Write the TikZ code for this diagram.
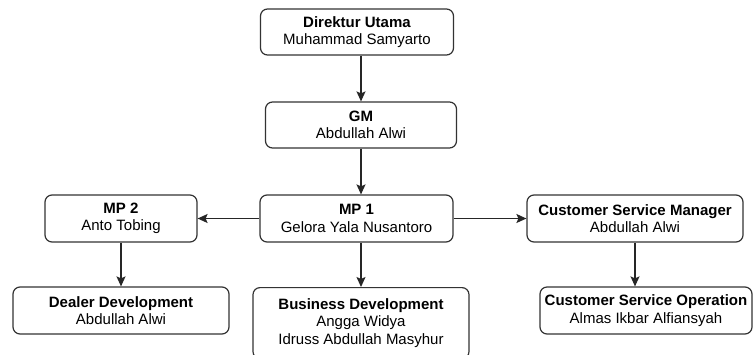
\documentclass[tikz,border=0pt]{standalone}
\usepackage{fontspec}
\setmainfont{Liberation Sans}
\usetikzlibrary{arrows.meta}
\begin{document}
\begin{tikzpicture}[x=1pt,y=1pt,
  box/.style={draw=black!80, line width=1.2pt, rounded corners=7pt, fill=white,
    align=center, inner sep=0pt, font=\fontsize{15}{17.5}\selectfont},
  arr/.style={draw=black!85, line width=1.3pt, -{Stealth[length=10pt,width=9pt,inset=2pt]}}]
\fill[white] (0,0) rectangle (754,-354);
\useasboundingbox (0,0) rectangle (754,-354);
\node[box, minimum width=193pt, minimum height=46pt] (dir) at (357,-32) {\textbf{Direktur Utama}\\Muhammad Samyarto};
\node[box, minimum width=191pt, minimum height=46pt] (gm) at (361,-125) {\textbf{GM}\\Abdullah Alwi};
\node[box, minimum width=193pt, minimum height=47pt] (mp1) at (356.5,-218.5) {\textbf{MP 1}\\Gelora Yala Nusantoro};
\node[box, minimum width=152pt, minimum height=47pt] (mp2) at (121,-218.5) {\textbf{MP 2}\\Anto Tobing};
\node[box, minimum width=216pt, minimum height=47pt] (csm) at (635,-218.5) {\textbf{Customer Service Manager}\\Abdullah Alwi};
\node[box, minimum width=216pt, minimum height=47pt] (dd) at (121,-310.5) {\textbf{Dealer Development}\\Abdullah Alwi};
\node[box, minimum width=216pt, minimum height=71pt, anchor=north] (bd) at (361,-287) {\textbf{Business Development}\\Angga Widya\\Idruss Abdullah Masyhur};
\node[box, minimum width=212pt, minimum height=47pt] (cso) at (646,-310.5) {\textbf{Customer Service Operation}\\Almas Ikbar Alfiansyah};
\draw[arr] (gm.north |- dir.south) -- (gm.north);
\draw[arr] (gm.south) -- (gm.south |- mp1.north);
\draw[arr] (mp1.west) -- (mp2.east);
\draw[arr] (mp1.east) -- (csm.west);
\draw[arr] (mp2.south) -- (mp2.south |- dd.north);
\draw[arr] (bd.north |- mp1.south) -- (bd.north);
\draw[arr] (csm.south) -- (csm.south |- cso.north);
\end{tikzpicture}
\end{document}
